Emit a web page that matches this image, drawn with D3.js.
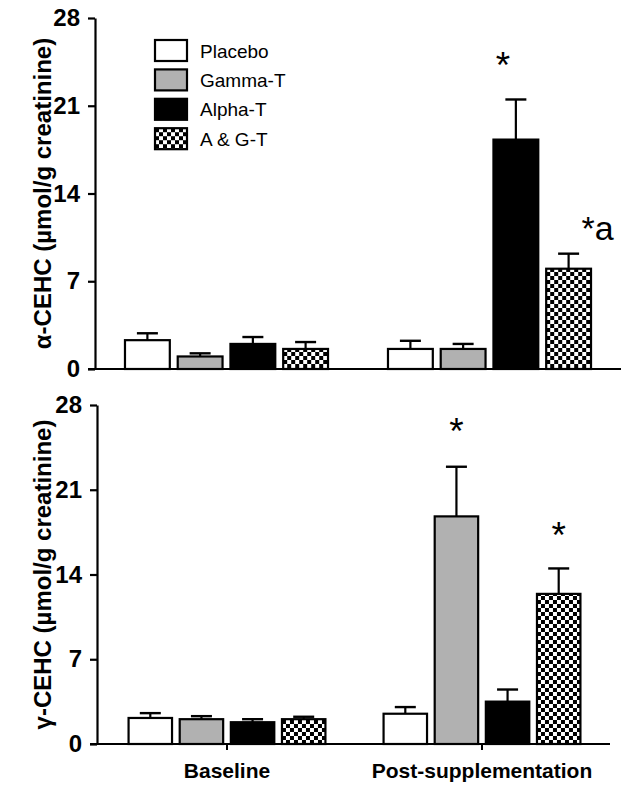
<!DOCTYPE html>
<html><head><meta charset="utf-8">
<script src="https://cdn.jsdelivr.net/npm/d3@7"></script>
<style>body{margin:0;background:#fff}svg{display:block}text{font-family:"Liberation Sans",Arial,sans-serif}</style>
</head><body><svg id="c" width="626" height="791"></svg>
<script>
const groups = ["Baseline", "Post-supplementation"];
const treatments = ["Placebo", "Gamma-T", "Alpha-T", "A & G-T"];
const yTicks = [0, 7, 14, 21, 28];
const alphaBaseline = [2.3, 1.0, 2.0, 1.6];
const alphaBaselineSE = [0.55, 0.25, 0.55, 0.55];
const alphaPost = [1.6, 1.6, 18.3, 8.0];
const alphaPostSE = [0.65, 0.4, 3.2, 1.2];
const gammaBaseline = [2.15, 2.05, 1.8, 2.05];
const gammaBaselineSE = [0.4, 0.25, 0.25, 0.2];
const gammaPost = [2.5, 18.8, 3.5, 12.4];
const gammaPostSE = [0.55, 4.1, 1.0, 2.1];
const alphaMarks = [["Post-supplementation", "Alpha-T", "*"], ["Post-supplementation", "A & G-T", "*a"]];
const gammaMarks = [["Post-supplementation", "Gamma-T", "*"], ["Post-supplementation", "A & G-T", "*"]];

const svg = d3.select("#c");
const defs = svg.append("defs");
const pat = defs.append("pattern").attr("id", "chk").attr("patternUnits", "userSpaceOnUse")
  .attr("width", 8).attr("height", 8);
pat.append("rect").attr("width", 8).attr("height", 8).attr("fill", "#fff");
pat.append("rect").attr("width", 4).attr("height", 4).attr("fill", "#000");
pat.append("rect").attr("x", 4).attr("y", 4).attr("width", 4).attr("height", 4).attr("fill", "#000");
const fills = d3.scaleOrdinal().domain(treatments).range(["#fff", "#b1b1b1", "#000", "url(#chk)"]);

function rows(base, baseSE, post, postSE) {
  const out = [];
  treatments.forEach((t, i) => {
    out.push({g: groups[0], t, v: base[i], e: baseSE[i]});
    out.push({g: groups[1], t, v: post[i], e: postSE[i]});
  });
  return out;
}

function panel(cfg) {
  const g = svg.append("g");
  const y = d3.scaleLinear().domain([0, 28]).range([cfg.yBottom, cfg.yTop]);
  const x0 = d3.scaleBand().domain(groups).range(cfg.bandRange);
  const bw = x0.bandwidth();
  const x1 = d3.scaleBand().domain(treatments).range([0.114 * bw, 0.886 * bw]).paddingInner(0.15);

  // y axis
  const ya = g.append("g").attr("transform", `translate(${cfg.axisX},0)`)
    .call(d3.axisLeft(y).tickValues(yTicks).tickSize(7).tickSizeOuter(0).tickPadding(8));
  ya.select(".domain").attr("stroke-width", 2.2);
  ya.selectAll(".tick line").attr("stroke-width", 2.2);
  ya.selectAll("text").attr("font-size", 24).attr("font-weight", "bold").attr("fill", "#000")
    .style("font-family", "Liberation Sans, Arial, sans-serif");

  // x axis
  const xa = g.append("g").attr("transform", `translate(0,${cfg.yBottom})`)
    .call(d3.axisBottom(x0).tickSize(cfg.showLabels ? 6 : 0).tickSizeOuter(0).tickPadding(13));
  xa.select(".domain").attr("d", `M${cfg.axisX - 7},0H${cfg.xEnd}`).attr("stroke-width", 2.2);
  xa.selectAll(".tick line").attr("stroke-width", 2);
  xa.selectAll("text").attr("font-size", 21).attr("font-weight", "bold").attr("fill", "#000")
    .style("font-family", "Liberation Sans, Arial, sans-serif")
    .style("display", cfg.showLabels ? null : "none");

  const data = rows(...cfg.data);
  const bars = g.append("g").selectAll("g").data(data).join("g")
    .attr("transform", d => `translate(${x0(d.g) + x1(d.t)},0)`);
  bars.append("line")
    .attr("x1", x1.bandwidth() / 2).attr("x2", x1.bandwidth() / 2)
    .attr("y1", d => y(d.v)).attr("y2", d => y(d.v + d.e))
    .attr("stroke", "#000").attr("stroke-width", 2.2);
  bars.append("line")
    .attr("x1", x1.bandwidth() / 2 - 10.5).attr("x2", x1.bandwidth() / 2 + 10.5)
    .attr("y1", d => y(d.v + d.e)).attr("y2", d => y(d.v + d.e))
    .attr("stroke", "#000").attr("stroke-width", 2.4);
  bars.append("rect")
    .attr("x", 0).attr("width", x1.bandwidth())
    .attr("y", d => y(d.v)).attr("height", d => y(0) - y(d.v))
    .attr("fill", d => fills(d.t)).attr("stroke", "#000").attr("stroke-width", 2.2);

  // significance marks
  cfg.marks.forEach((m, i) => {
    const d = data.find(r => r.g === m[0] && r.t === m[1]);
    const off = cfg.markOffsets[i];
    g.append("text")
      .attr("x", x0(d.g) + x1(d.t) + x1.bandwidth() / 2 + off[0])
      .attr("y", y(d.v + d.e) - off[1])
      .attr("text-anchor", off[2])
      .attr("font-size", off[3])
      .text(m[2]);
  });

  // y title
  g.append("text")
    .attr("transform", `translate(${cfg.titleX},${(cfg.yTop + cfg.yBottom) / 2}) rotate(-90)`)
    .attr("text-anchor", "middle").attr("font-size", 24).attr("font-weight", "bold")
    .text(cfg.title);
}

panel({
  axisX: 95, bandRange: [95, 621], xEnd: 621, yTop: 18, yBottom: 369, titleX: 51,
  title: "α-CEHC (µmol/g creatinine)", showLabels: false,
  data: [alphaBaseline, alphaBaselineSE, alphaPost, alphaPostSE],
  marks: alphaMarks, markOffsets: [[-13, 21, "middle", 37], [13, 14, "start", 34]]
});
panel({
  axisX: 97, bandRange: [99.5, 609.5], xEnd: 610, yTop: 405, yBottom: 744, titleX: 51,
  title: "γ-CEHC (µmol/g creatinine)", showLabels: true,
  data: [gammaBaseline, gammaBaselineSE, gammaPost, gammaPostSE],
  marks: gammaMarks, markOffsets: [[0, 23, "middle", 37], [0, 20, "middle", 37]]
});

// legend
const lg = svg.append("g").attr("transform", "translate(155,40)");
const li = lg.selectAll("g").data(treatments).join("g")
  .attr("transform", (d, i) => `translate(0,${i * 29.4})`);
li.append("rect").attr("width", 32).attr("height", 21)
  .attr("fill", d => fills(d)).attr("stroke", "#000").attr("stroke-width", 2.2);
li.append("text").attr("x", 45).attr("y", 11).attr("dy", "0.35em")
  .attr("font-size", 19).text(d => d);
</script></body></html>
